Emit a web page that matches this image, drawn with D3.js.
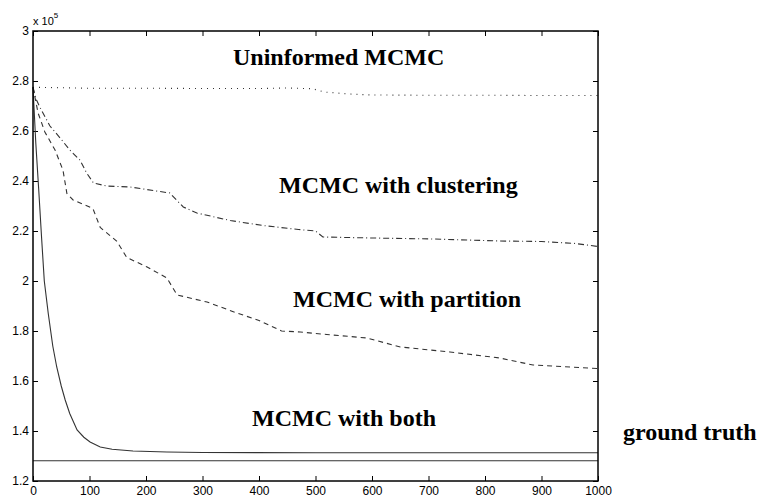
<!DOCTYPE html>
<html>
<head>
<meta charset="utf-8">
<script src="https://cdn.jsdelivr.net/npm/d3@7"></script>
<style>
  body { margin: 0; background: #fff; }
  .tick text { font-family: "Liberation Sans", Arial, sans-serif; font-size: 12px; fill: #000; }
  .label { font-family: "Liberation Serif", "Times New Roman", serif; font-weight: bold; font-size: 24px; fill: #000; }
</style>
</head>
<body>
<div id="chart"></div>
<script>
// values in units of 10^5, x = iteration
let uninformed = [[0,2.775],[100,2.771],[200,2.771],[300,2.770],[400,2.770],[450,2.772],[495,2.769],[515,2.756],[560,2.748],[600,2.744],[700,2.743],[800,2.743],[900,2.742],[1000,2.742]];

let clustering = [[0,2.775],[5,2.73],[12,2.696],[30,2.62],[48,2.572],[65,2.524],[83,2.484],[95,2.432],[107,2.392],[130,2.38],[172,2.376],[242,2.352],[266,2.296],[290,2.272],[349,2.242],[407,2.222],[470,2.206],[500,2.200],[513,2.176],[600,2.172],[708,2.168],[826,2.160],[900,2.158],[960,2.150],[1000,2.138]];

let partition = [[0,2.775],[9,2.672],[21,2.596],[39,2.524],[53,2.444],[60,2.350],[71,2.324],[106,2.290],[119,2.214],[148,2.160],[166,2.094],[202,2.056],[237,2.012],[255,1.944],[308,1.916],[361,1.872],[400,1.842],[440,1.800],[473,1.796],[520,1.786],[591,1.772],[650,1.736],[738,1.716],[826,1.692],[885,1.664],[1000,1.650]];

let both = [[0,2.775],[5,2.55],[10,2.37],[15,2.18],[20,2.00],[27,1.87],[35,1.74],[42,1.656],[50,1.58],[57,1.524],[65,1.47],[78,1.404],[90,1.375],[101,1.356],[119,1.336],[140,1.327],[177,1.320],[237,1.316],[300,1.314],[500,1.313],[1000,1.313]];

let groundTruth = [[0,1.281],[1000,1.281]];

let xTicks = [0,100,200,300,400,500,600,700,800,900,1000];
let yTicks = [1.2,1.4,1.6,1.8,2,2.2,2.4,2.6,2.8,3];

let labels = [
  {text: "Uninformed MCMC", x: 233, y: 65},
  {text: "MCMC with clustering", x: 279, y: 193},
  {text: "MCMC with partition", x: 293, y: 307},
  {text: "MCMC with both", x: 252, y: 426},
  {text: "ground truth", x: 623, y: 440}
];

let width = 761, height = 499;
let margin = {left: 33, top: 31, right: 163, bottom: 18};
let w = width - margin.left - margin.right;
let h = height - margin.top - margin.bottom;

let svg = d3.select("#chart")
    .append("svg")
    .attr("width", width)
    .attr("height", height);

let g = svg.append("g")
    .attr("transform", `translate(${margin.left}, ${margin.top})`);

let x = d3.scaleLinear().domain([0, 1000]).range([0, w]);
let y = d3.scaleLinear().domain([1.2, 3]).range([h, 0]);

let fmt = function(d) { return String(+d.toFixed(1)); };

// axes with ticks pointing inward, on all four sides
g.append("g")
    .attr("transform", `translate(0, ${h})`)
    .call(d3.axisBottom(x).tickValues(xTicks).tickFormat(d3.format("d")).tickSizeInner(-5).tickSizeOuter(0).tickPadding(5))
    .call(function(a) { a.select(".domain").remove(); });

g.append("g")
    .call(d3.axisTop(x).tickValues(xTicks).tickSizeInner(-5).tickSizeOuter(0).tickFormat(""))
    .call(function(a) { a.select(".domain").remove(); });

g.append("g")
    .call(d3.axisLeft(y).tickValues(yTicks).tickFormat(fmt).tickSizeInner(-5).tickSizeOuter(0).tickPadding(4))
    .call(function(a) { a.select(".domain").remove(); });

g.append("g")
    .attr("transform", `translate(${w}, 0)`)
    .call(d3.axisRight(y).tickValues(yTicks).tickSizeInner(-5).tickSizeOuter(0).tickFormat(""))
    .call(function(a) { a.select(".domain").remove(); });

g.selectAll(".tick line").attr("stroke", "#000");

let line = d3.line()
    .x(function(d) { return x(d[0]); })
    .y(function(d) { return y(d[1]); });

let series = [
  {data: uninformed, dash: "1,5"},
  {data: clustering, dash: "6,3,1,3"},
  {data: partition, dash: "5,4"},
  {data: both, dash: null},
  {data: groundTruth, dash: null}
];

g.selectAll("path.series").data(series)
    .enter()
    .append("path")
    .attr("class", "series")
    .attr("fill", "none")
    .attr("stroke", "#333")
    .attr("stroke-width", 1.1)
    .attr("stroke-dasharray", function(d) { return d.dash; })
    .attr("d", function(d) { return line(d.data); });

// frame
g.append("rect")
    .attr("width", w)
    .attr("height", h)
    .attr("fill", "none")
    .attr("stroke", "#000")
    .attr("stroke-width", 1.5);

// exponent label
let exp = svg.append("text")
    .attr("x", 33)
    .attr("y", 25)
    .style("font-family", "Liberation Sans, Arial, sans-serif")
    .style("font-size", "11px");
exp.append("tspan").text("x 10");
exp.append("tspan").attr("dy", -7).style("font-size", "8px").text("5");

svg.selectAll("text.label").data(labels)
    .enter()
    .append("text")
    .attr("class", "label")
    .attr("x", function(d) { return d.x; })
    .attr("y", function(d) { return d.y; })
    .text(function(d) { return d.text; });
</script>
</body>
</html>
